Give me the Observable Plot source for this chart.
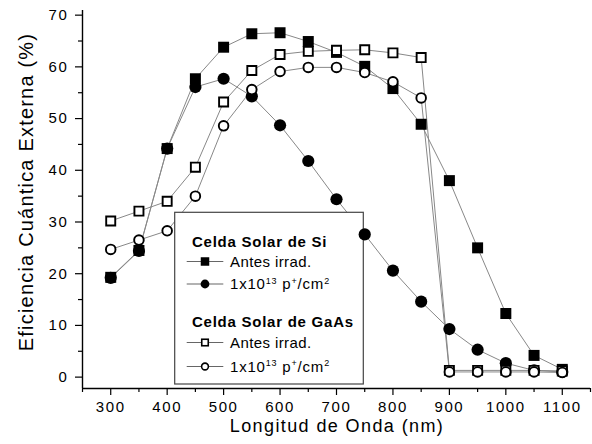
<!DOCTYPE html>
<html><head><meta charset="utf-8">
<script src="https://cdn.jsdelivr.net/npm/d3@7"></script>
<script src="https://cdn.jsdelivr.net/npm/@observablehq/plot@0.6"></script>
<style>body{margin:0;background:#fff} svg{display:block}</style>
</head><body><div id="chart"></div>
<script>
// ---- data ----
const wavelengths = [300,350,400,450,500,550,600,650,700,750,800,850,900,950,1000,1050,1100];
const siAntes   = [19.3,24.5,44.2,57.7,63.8,66.4,66.6,64.9,62.8,60.1,55.8,48.9,38.0,25.0,12.3,4.2,1.5];
const si1e13    = [19.2,24.4,44.2,56.1,57.7,54.3,48.7,41.8,34.4,27.6,20.6,14.6,9.3,5.3,2.7,1.3,1.0];
const gaAsAntes = [30.2,32.1,34.0,40.6,53.2,59.3,62.4,63.0,63.2,63.3,62.7,61.8,1.3,1.3,1.3,1.3,1.2];
const gaAs1e13  = [24.7,26.5,28.3,35.0,48.6,55.6,59.1,59.9,59.9,58.9,57.1,54.0,1.0,1.0,1.0,1.0,0.9];

const xMajorTicks = [300,400,500,600,700,800,900,1000,1100];
const xMinorTicks = [250,350,450,550,650,750,850,950,1050,1150];
const yMajorTicks = [0,10,20,30,40,50,60,70];
const yMinorTicks = [5,15,25,35,45,55,65];

const legendTitles = ["Celda Solar de Si", "Celda Solar de GaAs"];
const legendAntes = "Antes irrad.";
const legendDose = ["1x10", "13", " p", "+", "/cm", "2"];
const xTitle = "Longitud de Onda (nm)";
const yTitle = "Eficiencia Cuántica Externa (%)";

// ---- table ----
const seriesDefs = [
  {key: "siAntes",   values: siAntes,   symbol: "square", fill: "black", stroke: "none",  r: 6.2, sw: 0},
  {key: "si1e13",    values: si1e13,    symbol: "circle", fill: "black", stroke: "none",  r: 6.1, sw: 0},
  {key: "gaAsAntes", values: gaAsAntes, symbol: "square", fill: "white", stroke: "black", r: 5.1, sw: 1.9},
  {key: "gaAs1e13",  values: gaAs1e13,  symbol: "circle", fill: "white", stroke: "black", r: 4.8, sw: 1.9}
];
const tables = seriesDefs.map(s => wavelengths.map((w, i) => ({x: w, y: s.values[i], series: s.key})));

const FONT = "'Liberation Sans', Arial, Helvetica, sans-serif";

function overlay() {
  return () => {
    const g = d3.create("svg:g").attr("font-family", FONT).attr("fill", "black").attr("text-anchor", "start");
    // legend box
    g.append("rect").attr("x", 174.7).attr("y", 212.3).attr("width", 188.6).attr("height", 171.7)
      .attr("fill", "white").attr("stroke", "#444").attr("stroke-width", 1.2);
    const rowDefs = [
      {title: legendTitles[0], tY: 246.7},
      {def: seriesDefs[0], y: 261.5, text: "antes"},
      {def: seriesDefs[1], y: 284.0, text: "dose"},
      {title: legendTitles[1], tY: 327.3},
      {def: seriesDefs[2], y: 342.5, text: "antes"},
      {def: seriesDefs[3], y: 366.5, text: "dose"}
    ];
    for (const r of rowDefs) {
      if (r.title) {
        g.append("text").attr("x", 192).attr("y", r.tY).attr("font-size", 15).attr("font-weight", "bold")
          .attr("letter-spacing", "0.75px").text(r.title);
        continue;
      }
      g.append("line").attr("x1", 186.7).attr("x2", 223.3).attr("y1", r.y).attr("y2", r.y)
        .attr("stroke", "#666").attr("stroke-width", 1.2);
      const d = r.def;
      if (d.symbol === "square") {
        const s = d.stroke === "none" ? 8.5 : 6.5;
        g.append("rect").attr("x", 205 - s / 2).attr("y", r.y - s / 2).attr("width", s).attr("height", s)
          .attr("fill", d.fill).attr("stroke", d.stroke).attr("stroke-width", d.stroke === "none" ? 0 : 1.6);
      } else {
        g.append("circle").attr("cx", 205).attr("cy", r.y).attr("r", d.stroke === "none" ? 4.4 : 3.4)
          .attr("fill", d.fill).attr("stroke", d.stroke).attr("stroke-width", d.stroke === "none" ? 0 : 1.6);
      }
      const base = r.y + 5.3;
      const t = g.append("text").attr("x", 230).attr("y", base).attr("font-size", 15);
      if (r.text === "antes") {
        t.attr("letter-spacing", "0.4px").text(legendAntes);
      } else {
        t.attr("letter-spacing", "0.8px");
        legendDose.forEach((part, i) => {
          const sup = i % 2 === 1;
          t.append("tspan").attr("font-size", sup ? 9 : 15).attr("dy", i === 0 ? 0 : (sup ? -5.5 : 5.5)).text(part);
        });
      }
    }
    // axis titles
    g.append("text").attr("x", 337).attr("y", 432).attr("text-anchor", "middle").attr("font-size", 18)
      .attr("letter-spacing", "1.4px").text(xTitle);
    g.append("text").attr("transform", "translate(33,192) rotate(-90)").attr("text-anchor", "middle")
      .attr("font-size", 20).attr("letter-spacing", "1.2px").text(yTitle);
    return g.node();
  };
}

const lineMarks = tables.map(t => Plot.line(t, {x: "x", y: "y", stroke: "#888", strokeWidth: 1}));
const dotMarks = tables.map((t, i) => {
  const s = seriesDefs[i];
  return Plot.dot(t, {x: "x", y: "y", symbol: () => s.symbol, r: s.r, fill: s.fill, stroke: s.stroke, strokeWidth: s.sw});
});

const chart = Plot.plot({
  width: 592, height: 444,
  marginLeft: 82, marginRight: 2, marginTop: 10, marginBottom: 56,
  style: {fontFamily: FONT, fontSize: "15px", background: "white", color: "black", overflow: "visible"},
  x: {domain: [250, 1150], label: null},
  y: {domain: [-2.2, 70.9], label: null},
  symbol: {type: "identity"},
  marks: [
    ...lineMarks,
    overlay(),
    ...dotMarks,
    Plot.ruleX([250], {stroke: "black", strokeWidth: 1.4}),
    Plot.ruleY([-2.2], {stroke: "black", strokeWidth: 1.4}),
    Plot.axisX(xMajorTicks, {tickSize: 7, tickPadding: 6, tickFormat: d => String(d), stroke: "black", strokeWidth: 1.2, fontSize: 15}),
    Plot.axisX(xMinorTicks, {tickSize: 4, fill: "none", stroke: "black", strokeWidth: 1.2}),
    Plot.axisY(yMajorTicks, {tickSize: 7, tickPadding: 7, tickFormat: d => String(d), stroke: "black", strokeWidth: 1.2, fontSize: 15}),
    Plot.axisY(yMinorTicks, {tickSize: 4, fill: "none", stroke: "black", strokeWidth: 1.2})
  ]
});
chart.querySelectorAll("text").forEach(t => {
  if (!t.closest("g[font-family]")) t.setAttribute("letter-spacing", "1.6px");
});
document.getElementById("chart").appendChild(chart);
</script>
</body></html>
